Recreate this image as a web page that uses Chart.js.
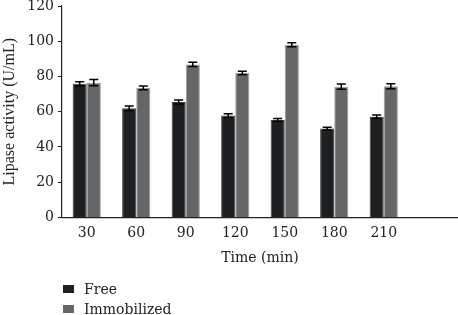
<!DOCTYPE html>
<html>
<head>
<meta charset="utf-8">
<script src="https://cdn.jsdelivr.net/npm/chart.js@4"></script>
<style>
  body { margin: 0; background: #fff; }
  #wrap { position: relative; width: 458px; height: 315px; }
  .leyenda { position: absolute; left: 63px; font: 14px "DejaVu Serif", serif; color: #222; }
  .leyenda span { display: inline-block; width: 11px; height: 8px; margin-right: 10px; vertical-align: 1px; }
</style>
</head>
<body>
<div id="wrap">
  <canvas id="grafico" width="458" height="315"></canvas>
  <div class="leyenda" style="top: 281px;"><span style="background:#1e1f21"></span>Free</div>
  <div class="leyenda" style="top: 301px;"><span style="background:#646667"></span>Immobilized</div>
</div>
<script>
// datos
const tiempos = ["30", "60", "90", "120", "150", "180", "210", ""];
const libre = [75.8, 62.0, 65.5, 57.8, 55.3, 50.4, 57.2];
const libreErr = [1.2, 1.3, 1.2, 1.1, 0.8, 0.8, 0.9];
const inmovilizado = [76.5, 73.5, 86.8, 82.0, 98.0, 74.2, 74.4];
const inmovilizadoErr = [1.8, 1.1, 1.2, 1.0, 1.2, 1.5, 1.4];
const ticksY = [0, 20, 40, 60, 80, 100, 120];

const fuente = '"DejaVu Serif", serif';

// barras de error dibujadas con las escalas del grafico
const barrasError = {
    id: "barrasError",
    afterDatasetsDraw(chart) {
        const ctx = chart.ctx;
        const y = chart.scales.y;
        const errores = [libreErr, inmovilizadoErr];
        ctx.save();
        ctx.strokeStyle = "#000";
        ctx.lineWidth = 1.5;
        chart.data.datasets.forEach((ds, i) => {
            const meta = chart.getDatasetMeta(i);
            meta.data.forEach((bar, j) => {
                if (ds.data[j] === null || ds.data[j] === undefined) return;
                const e = errores[i][j];
                const yArriba = y.getPixelForValue(ds.data[j] + e);
                const yAbajo = y.getPixelForValue(ds.data[j] - e);
                const x = bar.x;
                ctx.beginPath();
                ctx.moveTo(x, yArriba); ctx.lineTo(x, yAbajo);
                ctx.moveTo(x - 4.5, yArriba); ctx.lineTo(x + 4.5, yArriba);
                ctx.moveTo(x - 4.5, yAbajo); ctx.lineTo(x + 4.5, yAbajo);
                ctx.stroke();
            });
        });
        ctx.restore();
    }
};

document.addEventListener("DOMContentLoaded", function() {
    const ctx = document.getElementById("grafico").getContext("2d");
    new Chart(ctx, {
        type: "bar",
        data: {
            labels: tiempos,
            datasets: [{
                label: "Free",
                data: libre,
                backgroundColor: "#1e1f21",
                borderColor: "#3a3b3d",
                borderWidth: 1,
                categoryPercentage: 0.57,
                barPercentage: 1
            }, {
                label: "Immobilized",
                data: inmovilizado,
                backgroundColor: "#646667",
                borderColor: "#9c9e9e",
                borderWidth: 1,
                categoryPercentage: 0.57,
                barPercentage: 1
            }]
        },
        options: {
            responsive: false,
            animation: false,
            layout: { padding: { top: 0, right: 0, bottom: 48, left: 0 } },
            plugins: {
                legend: { display: false },
                tooltip: { enabled: false }
            },
            scales: {
                x: {
                    grid: { display: false },
                    border: { display: true, color: "#222", width: 1.2 },
                    ticks: { color: "#222", font: { family: fuente, size: 14 }, padding: 0, maxRotation: 0 },
                    title: { display: true, text: "Time (min)", color: "#222", font: { family: fuente, size: 14 }, padding: { top: 8, bottom: 0 } }
                },
                y: {
                    min: 0,
                    max: 120,
                    afterBuildTicks: function(scale) {
                        scale.ticks = ticksY.map(v => ({ value: v }));
                    },
                    afterFit: function(scale) {
                        scale.width = 62;
                        scale.paddingTop = 6;
                    },
                    grid: { drawOnChartArea: false, drawTicks: true, tickLength: 4, color: "#222" },
                    border: { display: true, color: "#222", width: 1.2 },
                    ticks: { color: "#222", font: { family: fuente, size: 14 }, padding: 4 },
                    title: { display: true, text: "Lipase activity (U/mL)", color: "#222", font: { family: '"Liberation Serif", serif', size: 16 }, padding: 0 }
                }
            }
        },
        plugins: [barrasError]
    });
});
</script>
</body>
</html>
